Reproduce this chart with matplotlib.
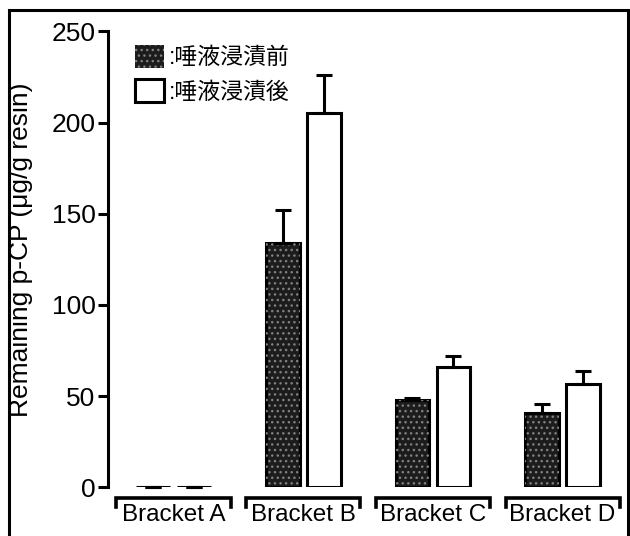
import matplotlib
matplotlib.use('Agg')
import matplotlib.pyplot as plt
import matplotlib.transforms as mtransforms
from matplotlib.patches import Patch, Rectangle
from matplotlib.lines import Line2D

plt.rcParams['font.family'] = ['Liberation Sans', 'Noto Sans CJK JP', 'DejaVu Sans']

groups = ['Bracket A', 'Bracket B', 'Bracket C', 'Bracket D']
before = [0, 134, 48, 41]
before_err = [0, 18, 1, 4.5]
after = [0, 205, 66, 56.5]
after_err = [0, 21, 6, 7]
labels = [':唾液浸漬前', ':唾液浸漬後']
yticks = [0, 50, 100, 150, 200, 250]

fig = plt.figure(figsize=(6.3, 5.36), dpi=100)
ax = fig.add_axes([108/630, 48.7/536, 517/630, 456/536])

x = list(range(len(groups)))
off = 0.158
w = 0.26
xb = [i - off for i in x]
xa = [i + off for i in x]
lw = 2.2

# dark speckled bars
ax.bar(xb, before, w, color='#1c1c1c', edgecolor='black', linewidth=lw, zorder=2)
ax.bar(xb, before, w, color='none', edgecolor='#808080', linewidth=0, hatch='...', zorder=3)
ax.bar(xa, after, w, color='white', edgecolor='black', linewidth=lw, zorder=2)

ax.errorbar(xb, before, yerr=[[0]*4, before_err], fmt='none', ecolor='black',
            elinewidth=lw, capsize=5.5, capthick=lw, clip_on=False, zorder=4)
ax.errorbar(xa, after, yerr=[[0]*4, after_err], fmt='none', ecolor='black',
            elinewidth=lw, capsize=5.5, capthick=lw, clip_on=False, zorder=4)

ax.set_xlim(-0.505, 3.481)
ax.set_ylim(0, 250)
ax.set_yticks(yticks)
ax.set_xticks([])
for s in ['top', 'right', 'bottom']:
    ax.spines[s].set_visible(False)
ax.spines['left'].set_linewidth(lw)
ax.tick_params(axis='y', direction='out', length=7, width=lw, pad=2, labelsize=19)
ax.set_ylabel('Remaining p-CP (μg/g resin)', fontsize=19)
ax.yaxis.set_label_coords(-0.145, 0.52)

# brackets under each group
tr = mtransforms.blended_transform_factory(ax.transData, fig.transFigure)
ytop = 1 - 498/536
yend = 1 - 507/536
for i, g in enumerate(groups):
    x0, x1 = i - 0.44, i + 0.44
    ax.add_line(Line2D([x0, x0, x1, x1], [yend, ytop, ytop, yend], transform=tr,
                       color='black', linewidth=2.6, clip_on=False,
                       solid_joinstyle='miter'))
    ax.text(i, 1 - 515/536, g, transform=tr, ha='center', va='center', fontsize=17.5)

handles = [Patch(facecolor='#1c1c1c', edgecolor='#808080', hatch='...', linewidth=0),
           Patch(facecolor='white', edgecolor='black', linewidth=lw)]
ax.legend(handles, labels, loc='upper left', bbox_to_anchor=(0.035, 0.99),
          frameon=False, fontsize=16.5, handlelength=1.25, handleheight=1.15,
          handletextpad=0.2, labelspacing=0.45, borderaxespad=0)

# frame around the figure
fig.add_artist(Rectangle((9/630, -0.1), 619/630, 1.1 - 10/536, transform=fig.transFigure,
                         fill=False, edgecolor='black', linewidth=lw))

fig.savefig('out.png', dpi=100)
